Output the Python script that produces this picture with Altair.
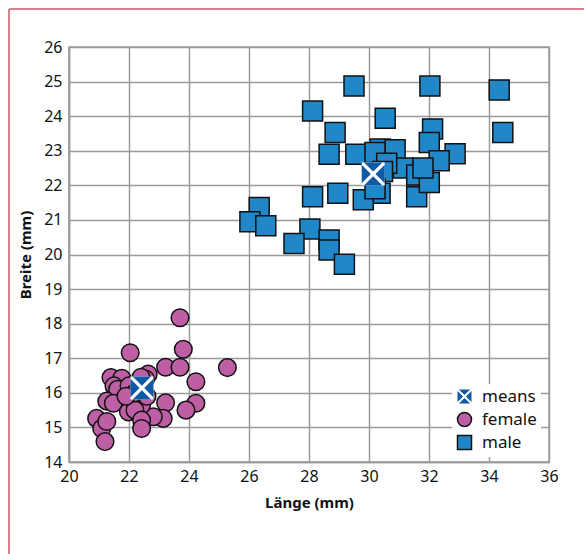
import altair as alt
import pandas as pd

# ---- data ----
female_x = [23.70, 23.81, 22.04, 25.28, 23.22, 23.70, 24.23, 22.64, 22.55, 22.40,
            21.40, 21.76, 21.50, 21.62, 21.26, 21.48, 23.22, 24.23, 23.90, 23.14,
            22.81, 22.42, 21.98, 22.20, 22.42, 22.42, 20.92, 21.09, 21.26, 21.20,
            22.00, 22.20, 22.60, 21.90]
female_y = [18.17, 17.26, 17.16, 16.73, 16.74, 16.74, 16.32, 16.54, 16.40, 16.45,
            16.44, 16.42, 16.20, 16.10, 15.76, 15.70, 15.71, 15.70, 15.50, 15.26,
            15.31, 15.65, 15.45, 15.50, 15.21, 14.97, 15.26, 14.97, 15.17, 14.59,
            16.20, 16.00, 15.90, 15.90]

male_x = [29.50, 28.12, 30.54, 28.87, 28.67, 29.56, 30.37, 30.87, 30.20, 31.14,
          30.59, 30.45, 30.37, 29.81, 28.96, 28.12, 26.34, 26.03, 26.56, 28.03,
          27.50, 28.67, 28.67, 29.18, 31.59, 31.59, 32.03, 34.34, 34.46, 32.12,
          32.01, 32.87, 32.34, 32.01, 30.20, 31.80]
male_y = [24.87, 24.15, 23.94, 23.53, 22.90, 22.90, 23.05, 23.03, 22.95, 22.50,
          22.64, 22.40, 21.77, 21.58, 21.77, 21.67, 21.36, 20.95, 20.83, 20.74,
          20.32, 20.42, 20.13, 19.72, 22.30, 21.67, 24.87, 24.76, 23.53, 23.63,
          23.24, 22.91, 22.71, 22.08, 21.90, 22.50]

means_x = [22.43, 30.14]
means_y = [16.14, 22.33]

groups = ["means", "female", "male"]
fill_colors = ["#0f5aa6", "#be5fa5", "#2087c8"]
stroke_colors = ["transparent", "#111111", "#111111"]

# square with an X cut out (four triangles)
X_PATH = ("M-0.8,-1L0.8,-1L0,-0.2Z M-0.8,1L0.8,1L0,0.2Z "
          "M-1,-0.8L-1,0.8L-0.2,0Z M1,-0.8L1,0.8L0.2,0Z")
shapes = [X_PATH, "circle", "square"]

FONT = "Noto Sans"

fem = pd.DataFrame({"x": female_x, "y": female_y, "group": ["female"] * len(female_x)})
mal = pd.DataFrame({"x": male_x, "y": male_y, "group": ["male"] * len(male_x)})
means = pd.DataFrame({"x": means_x, "y": means_y, "group": ["means"] * len(means_x)})

xenc = alt.X("x:Q",
             scale=alt.Scale(domain=[20, 36], nice=False, zero=False),
             axis=alt.Axis(values=list(range(20, 37, 2)), title="Länge (mm)"))
yenc = alt.Y("y:Q",
             scale=alt.Scale(domain=[14, 26], nice=False, zero=False),
             axis=alt.Axis(values=list(range(14, 27)), title="Breite (mm)"))

legend = alt.Legend(title=None, orient="none", legendX=383, legendY=337,
                    fillColor="white", padding=4, symbolSize=196,
                    symbolStrokeWidth=1.5, labelFont=FONT, labelFontSize=17,
                    labelColor="#111111", labelOffset=9, rowPadding=2,
                    symbolOpacity=1)

color = alt.Color("group:N", scale=alt.Scale(domain=groups, range=fill_colors), legend=legend)
shape = alt.Shape("group:N", scale=alt.Scale(domain=groups, range=shapes), legend=legend)
stroke = alt.Stroke("group:N", scale=alt.Scale(domain=groups, range=stroke_colors), legend=legend)


def group_layer(df, sz):
    return alt.Chart(df).mark_point(filled=True, opacity=1, strokeWidth=1.5, size=sz).encode(
        x=xenc, y=yenc, color=color, shape=shape, stroke=stroke)


female_layer = group_layer(fem, 310)
male_layer = group_layer(mal, 400)

backing = alt.Chart(means).mark_point(filled=True, opacity=1, shape="square",
                                      color="white", size=530).encode(x=xenc, y=yenc)
mean_layer = group_layer(means, 530)

FRAME = "#d57a80"
frame_top = alt.Chart(means).mark_rule(color=FRAME, strokeWidth=1.5).encode(
    x=alt.value(-60), x2=alt.value(520), y=alt.value(-38))
frame_left = alt.Chart(means).mark_rule(color=FRAME, strokeWidth=1.5).encode(
    x=alt.value(-60), y=alt.value(-38), y2=alt.value(510))

chart = alt.layer(frame_top, frame_left, female_layer, male_layer, backing, mean_layer).properties(
    width=480, height=415,
    autosize=alt.AutoSizeParams(type="none"),
    padding={"left": 69, "top": 47, "right": 35, "bottom": 92},
).configure_view(
    stroke="#9a9a9a", strokeWidth=1.5
).configure_axis(
    grid=True, gridColor="#9a9a9a", gridWidth=1.5,
    domainColor="#9a9a9a", domainWidth=1.5, labelFlush=False,
    ticks=False, labelFont=FONT, labelFontSize=16, labelColor="#111111",
    titleFont=FONT, titleFontSize=15, titleFontWeight="bold", titleColor="#111111",
).configure_axisX(labelPadding=6, titlePadding=11
).configure_axisY(labelPadding=7, titlePadding=10)

chart.save("out.html", embed_options={"renderer": "svg", "actions": False})
